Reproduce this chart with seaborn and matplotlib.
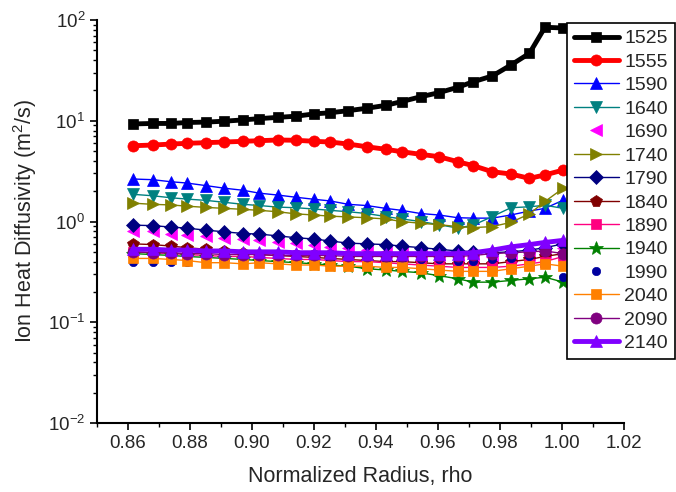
import numpy as np
import pandas as pd
import matplotlib
matplotlib.use("Agg")
import matplotlib.pyplot as plt
import seaborn as sns

rho = [0.8617, 0.8680, 0.8739, 0.8789, 0.8852, 0.8911, 0.8972, 0.9024, 0.9083,
       0.9142, 0.9201, 0.9252, 0.9311, 0.9370, 0.9431, 0.9483, 0.9544, 0.9603,
       0.9664, 0.9714, 0.9775, 0.9835, 0.9895, 0.9945, 1.0004]

labels = ["1525", "1555", "1590", "1640", "1690", "1740", "1790", "1840",
          "1890", "1940", "1990", "2040", "2090", "2140"]

s1525 = [9.3, 9.4, 9.4, 9.6, 9.7, 9.9, 10.2, 10.5, 10.8, 11.1, 11.7, 12.0, 12.6,
         13.3, 14.2, 15.5, 17.3, 19.0, 21.5, 24.4, 27.8, 35.7, 46.7, 84.7, 83.3]
s1555 = [5.65, 5.74, 5.87, 5.97, 6.06, 6.15, 6.25, 6.34, 6.44, 6.40, 6.25, 6.15, 5.87,
         5.52, 5.21, 4.93, 4.64, 4.40, 3.92, 3.58, 3.12, 2.96, 2.68, 2.90, 3.24]
s1590 = [2.64, 2.60, 2.48, 2.41, 2.27, 2.14, 2.04, 1.91, 1.83, 1.74, 1.66, 1.60, 1.48,
         1.44, 1.35, 1.29, 1.20, 1.16, 1.09, 1.08, 1.08, 1.16, 1.27, 1.35, 1.63]
s1640 = [1.86, 1.80, 1.72, 1.67, 1.62, 1.55, 1.48, 1.44, 1.39, 1.37, 1.33, 1.29, 1.25,
         1.20, 1.12, 1.06, 1.00, 0.93, 0.86, 0.92, 1.12, 1.37, 1.40, 1.45, 1.35]
s1690 = [0.81, 0.80, 0.76, 0.73, 0.71, 0.69, 0.67, 0.65, 0.63, 0.61, 0.58, 0.56, 0.54,
         0.52, 0.50, 0.49, 0.47, 0.46, 0.45, 0.44, 0.44, 0.45, 0.47, 0.50, 0.55]
s1740 = [1.52, 1.48, 1.46, 1.42, 1.38, 1.35, 1.32, 1.29, 1.25, 1.19, 1.16, 1.13, 1.11,
         1.09, 1.06, 1.00, 0.96, 0.93, 0.89, 0.87, 0.89, 0.98, 1.19, 1.58, 2.14]
s1790 = [0.92, 0.91, 0.88, 0.86, 0.82, 0.79, 0.76, 0.75, 0.72, 0.69, 0.67, 0.64, 0.61,
         0.60, 0.59, 0.57, 0.55, 0.53, 0.51, 0.50, 0.49, 0.50, 0.52, 0.55, 0.60]
s1840 = [0.60, 0.59, 0.57, 0.55, 0.53, 0.51, 0.49, 0.47, 0.46, 0.45, 0.44, 0.43, 0.42,
         0.41, 0.40, 0.40, 0.39, 0.38, 0.38, 0.38, 0.38, 0.40, 0.42, 0.45, 0.48]
s1890 = [0.50, 0.49, 0.48, 0.47, 0.46, 0.45, 0.45, 0.44, 0.43, 0.42, 0.42, 0.41, 0.40,
         0.40, 0.39, 0.38, 0.37, 0.36, 0.35, 0.35, 0.35, 0.36, 0.38, 0.40, 0.45]
s1940 = [0.48, 0.47, 0.46, 0.45, 0.44, 0.43, 0.42, 0.41, 0.40, 0.39, 0.38, 0.37, 0.36,
         0.34, 0.33, 0.32, 0.31, 0.29, 0.27, 0.25, 0.25, 0.26, 0.27, 0.28, 0.25]
s1990 = [0.40, 0.40, 0.40, 0.40, 0.41, 0.41, 0.42, 0.42, 0.42, 0.42, 0.42, 0.42, 0.42,
         0.42, 0.42, 0.42, 0.42, 0.42, 0.41, 0.41, 0.42, 0.43, 0.45, 0.38, 0.28]
s2040 = [0.43, 0.43, 0.42, 0.41, 0.39, 0.39, 0.38, 0.39, 0.38, 0.37, 0.37, 0.36, 0.36,
         0.36, 0.35, 0.35, 0.34, 0.33, 0.32, 0.32, 0.32, 0.34, 0.36, 0.38, 0.36]
s2090 = [0.50, 0.49, 0.49, 0.48, 0.48, 0.47, 0.47, 0.47, 0.46, 0.46, 0.46, 0.46, 0.45,
         0.45, 0.45, 0.45, 0.45, 0.45, 0.45, 0.46, 0.48, 0.49, 0.50, 0.51, 0.48]
s2140 = [0.53, 0.53, 0.52, 0.52, 0.51, 0.51, 0.50, 0.50, 0.50, 0.49, 0.49, 0.49, 0.48,
         0.48, 0.48, 0.48, 0.48, 0.48, 0.48, 0.49, 0.52, 0.56, 0.59, 0.62, 0.65]

series = [s1525, s1555, s1590, s1640, s1690, s1740, s1790, s1840,
          s1890, s1940, s1990, s2040, s2090, s2140]

colors = ["#000000", "#FF0000", "#0000FF", "#008080", "#FF00FF", "#808000",
          "#000080", "#800000", "#FF0080", "#008000", "#0000A0", "#FF8000",
          "#800080", "#8000FF"]
markers = ["s", "o", "^", "v", "<", ">", "D", "p", "s", "*", "o", "s", "o", "^"]
linewidths = [3.5, 3.5, 1.0, 1.0, 0, 1.0, 1.0, 1.0, 1.0, 1.0, 0, 1.0, 1.0, 3.5]
msizes = [6.5, 8, 9, 9, 8, 9, 7.5, 8.5, 7, 10, 6, 7.5, 8, 8]

sns.set_theme(style="ticks")
plt.rcParams["font.family"] = ["Liberation Sans", "DejaVu Sans"]
plt.rcParams["mathtext.fontset"] = "custom"
plt.rcParams["mathtext.rm"] = "Liberation Sans"
plt.rcParams["mathtext.it"] = "Liberation Sans:italic"

fig = plt.figure(figsize=(6.76, 4.92), dpi=100)
ax = fig.add_axes([97 / 676, 1 - 423 / 492, (624 - 97) / 676, (423 - 20) / 492])

for lab, vals, c, m, lw, ms in zip(labels, series, colors, markers, linewidths, msizes):
    df = pd.DataFrame({"rho": rho, "chi": vals})
    ls = "-" if lw > 0 else "none"
    sns.lineplot(data=df, x="rho", y="chi", ax=ax, color=c, marker=m,
                 linewidth=max(lw, 0.1), linestyle=ls, markersize=ms,
                 markeredgecolor=c, markeredgewidth=0.5, label=lab,
                 estimator=None, sort=False)

ax.set_yscale("log")
ax.set_ylim(1e-2, 1e2)
ax.set_xlim(0.85, 1.02)
ax.set_xticks(np.arange(0.86, 1.021, 0.02))
ax.set_xticklabels([f"{v:.2f}" for v in np.arange(0.86, 1.021, 0.02)])
ax.set_xticks(np.arange(0.85, 1.021, 0.01), minor=True)
ax.tick_params(axis="both", which="major", labelsize=13.5, length=5, width=1.2,
               direction="out", color="black")
ax.tick_params(axis="both", which="minor", length=3, width=1.0, direction="out",
               color="black")
for sp in ["top", "right"]:
    ax.spines[sp].set_visible(False)
for sp in ["left", "bottom"]:
    ax.spines[sp].set_color("black")
    ax.spines[sp].set_linewidth(1.5)

ax.set_xlabel("Normalized Radius, rho", fontsize=15.5, labelpad=10)
ax.set_ylabel("Ion Heat Diffusivity (m$^2$/s)", fontsize=15.5, labelpad=6)

leg = ax.legend(loc="upper left", bbox_to_anchor=(567 / 676, 1 - 23 / 492),
                bbox_transform=fig.transFigure, fontsize=14, frameon=True,
                fancybox=False, edgecolor="black", framealpha=1,
                handlelength=2.3, handletextpad=0.3, labelspacing=0.3,
                borderpad=0.35, borderaxespad=0)
leg.get_frame().set_linewidth(1.2)

fig.savefig("out.png", dpi=100)
